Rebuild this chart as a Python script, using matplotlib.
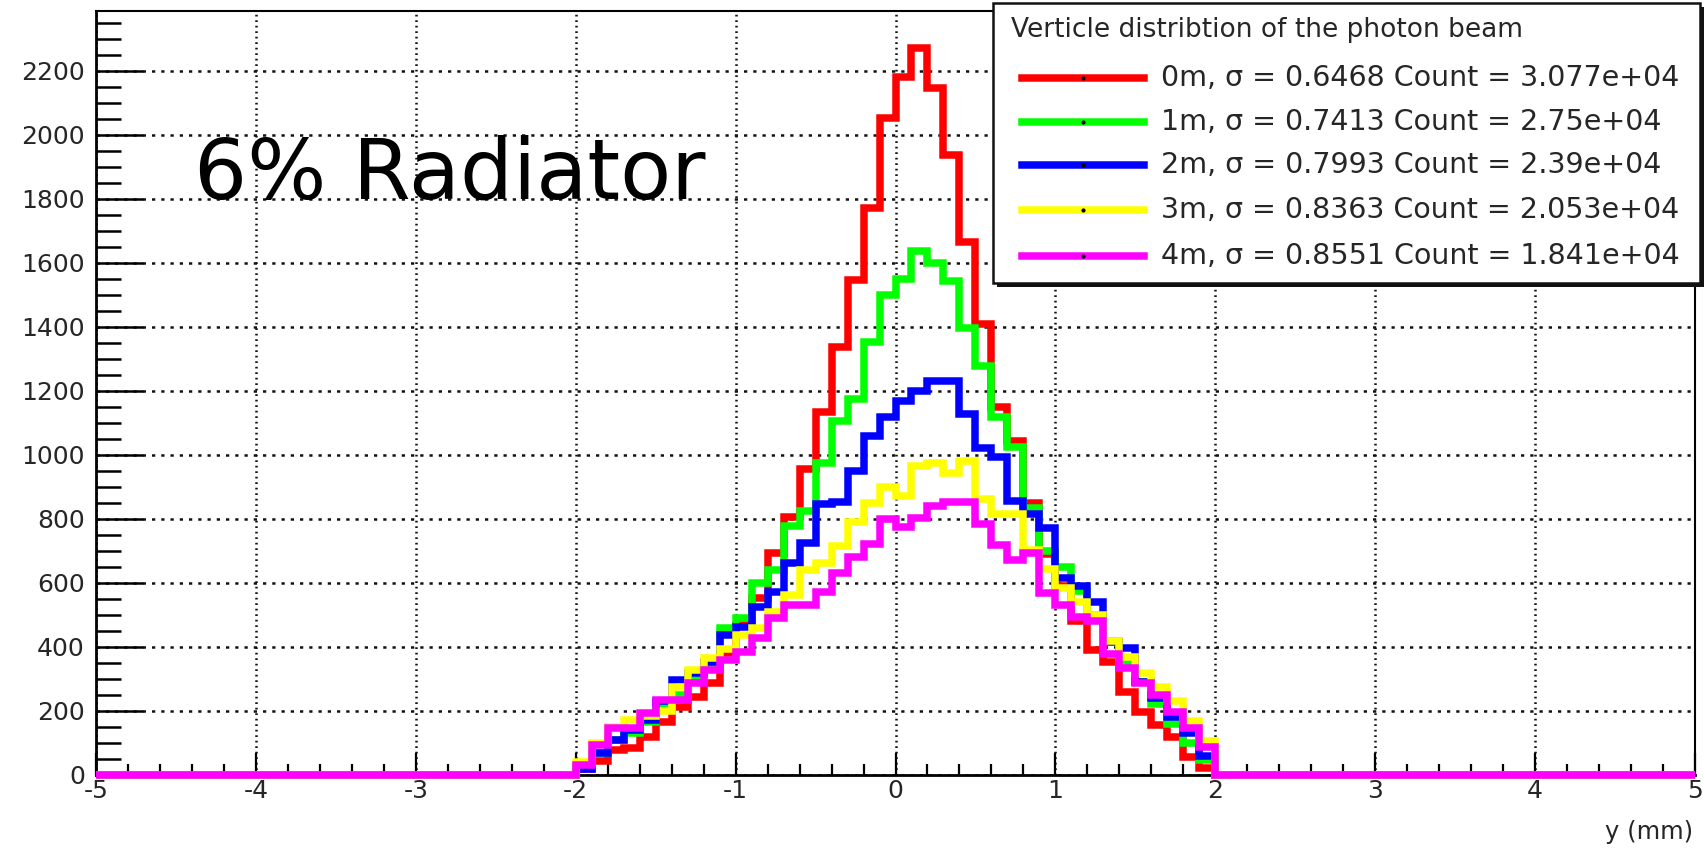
import numpy as np
import matplotlib
matplotlib.use("Agg")
import matplotlib.pyplot as plt
from matplotlib.ticker import MultipleLocator
from matplotlib.lines import Line2D
from matplotlib.patches import Rectangle

plt.rcParams["font.family"] = ["DejaVu Sans"]
plt.rcParams["axes.unicode_minus"] = False

# Histogram binning: 100 bins of 0.1 mm on [-5, 5]; entries only in [-2, 2]
x_lo, x_hi, n_bins = -5.0, 5.0, 100
first_filled = 30  # bin index of y = -2.0 mm

# Bin contents for y = -2.0 ... 2.0 mm (40 bins), one list per distance
counts_0m = [20, 45, 78, 85, 118, 165, 214, 245, 287, 380,
             470, 552, 695, 807, 955, 1135, 1338, 1548, 1771, 2052,
             2181, 2270, 2145, 1937, 1665, 1410, 1150, 1043, 849, 690,
             590, 480, 391, 354, 260, 198, 157, 120, 57, 21]
counts_1m = [25, 70, 110, 130, 167, 210, 250, 300, 340, 458,
             490, 599, 641, 778, 826, 975, 1105, 1176, 1353, 1500,
             1549, 1638, 1601, 1542, 1397, 1278, 1119, 1025, 833, 700,
             651, 575, 500, 420, 350, 290, 222, 160, 100, 47]
counts_2m = [20, 68, 110, 140, 172, 230, 297, 320, 354, 437,
             463, 526, 573, 662, 724, 846, 852, 950, 1060, 1117,
             1168, 1199, 1231, 1231, 1127, 1023, 992, 855, 817, 771,
             615, 590, 542, 417, 396, 292, 240, 182, 130, 60]
counts_3m = [40, 100, 150, 172, 185, 200, 276, 328, 365, 395,
             437, 458, 510, 562, 640, 661, 715, 792, 850, 900,
             871, 965, 975, 945, 980, 863, 815, 815, 703, 645,
             585, 540, 500, 420, 369, 318, 275, 231, 170, 105]
counts_4m = [31, 94, 146, 146, 193, 234, 234, 287, 328, 359,
             385, 427, 490, 531, 531, 573, 630, 682, 721, 800,
             775, 802, 841, 852, 852, 785, 720, 672, 693, 568,
             531, 495, 480, 378, 333, 286, 250, 198, 146, 89]

distances = ["0m", "1m", "2m", "3m", "4m"]
sigmas = [0.6468, 0.7413, 0.7993, 0.8363, 0.8551]
entries = [30770, 27500, 23900, 20530, 18410]
colors = ["#ff0000", "#00ff00", "#0000ff", "#ffff00", "#ff00ff"]
series = [counts_0m, counts_1m, counts_2m, counts_3m, counts_4m]

legend_header = "Verticle distribtion of the photon beam"
x_title = "y (mm)"
annotation = "6% Radiator"

edges = np.linspace(x_lo, x_hi, n_bins + 1)


def full_histogram(values):
    h = np.zeros(n_bins)
    h[first_filled:first_filled + len(values)] = values
    return h


W, H = 1705, 849
fig = plt.figure(figsize=(W / 100, H / 100), dpi=100)
ax = fig.add_axes([96 / W, (H - 775) / H, (1695 - 96) / W, (775 - 11) / H])

line_w = 5.4
for vals, col in zip(series, colors):
    ax.stairs(full_histogram(vals), edges, color=col, lw=line_w,
              baseline=None, clip_on=False, zorder=3)

ax.set_xlim(x_lo, x_hi)
ax.set_ylim(0, 2387)
ax.set_xticks(np.arange(-5, 6, 1))
ax.xaxis.set_minor_locator(MultipleLocator(0.2))
ax.set_yticks(np.arange(0, 2201, 200))
ax.yaxis.set_minor_locator(MultipleLocator(50))

lab_col = "#262626"
ax.tick_params(axis="y", which="major", direction="in", length=34, width=1.8,
               labelsize=18, pad=8, labelcolor=lab_col)
ax.tick_params(axis="y", which="minor", direction="in", length=18, width=1.8)
ax.tick_params(axis="x", which="major", direction="in", length=16, width=1.6,
               labelsize=18, pad=3, labelcolor=lab_col)
ax.tick_params(axis="x", which="minor", direction="in", length=8, width=1.6)

ax.set_axisbelow(True)
ax.yaxis.grid(True, which="major", color="#111111", lw=1.8, linestyle=(0, (1.3, 2.4)))
ax.xaxis.grid(True, which="major", color="#111111", lw=1.8, linestyle=(0, (0.7, 1.5)))

for name, s in ax.spines.items():
    s.set_linewidth(2.0 if name in ("left", "bottom") else 1.5)
    s.set_color("black")

fig.text(1693 / W, 1 - 832 / H, x_title, ha="right", va="center",
         fontsize=17.5, color=lab_col)

fig.text(194 / W, 1 - 199 / H, annotation, ha="left", va="baseline",
         fontsize=60, color="black")

# Legend box with shadow
lx0, lx1, ly0, ly1 = 993, 1700, 3, 283
fig.patches.append(Rectangle(((lx0 + 4) / W, 1 - (ly1 + 4) / H), (lx1 - lx0) / W,
                             (ly1 - ly0) / H, transform=fig.transFigure,
                             facecolor="#111111", edgecolor="none", zorder=5))
fig.patches.append(Rectangle((lx0 / W, 1 - ly1 / H), (lx1 - lx0) / W,
                             (ly1 - ly0) / H, transform=fig.transFigure,
                             facecolor="white", edgecolor="#111111", lw=1.8,
                             zorder=6))
fig.text(1011 / W, 1 - 30 / H, legend_header, ha="left", va="center",
         fontsize=19, color="#262626", zorder=7)
row_y = [78, 122, 165, 210, 256]
for d, sg, n, col, yy in zip(distances, sigmas, entries, colors, row_y):
    yf = 1 - yy / H
    fig.lines.append(Line2D([1022 / W, 1144 / W], [yf, yf], transform=fig.transFigure,
                            color=col, lw=line_w, zorder=7))
    fig.lines.append(Line2D([1083 / W], [yf], transform=fig.transFigure,
                            marker="o", ms=2.0, color="black", lw=0, zorder=8))
    label = f"{d}, \u03c3 = {sg:.4f} Count = {n:.4g}"
    fig.text(1161 / W, yf, label, ha="left", va="center", fontsize=20.5,
             color="#262626", zorder=7)

fig.savefig("out.png", dpi=100)
